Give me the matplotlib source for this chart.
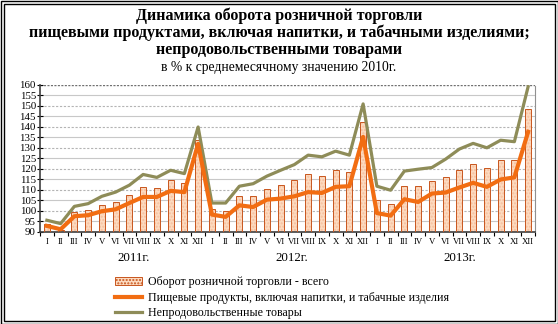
import matplotlib
matplotlib.use("Agg")
import matplotlib.pyplot as plt
import numpy as np
from matplotlib.lines import Line2D
from matplotlib.patches import Patch, Rectangle

plt.rcParams['font.family'] = ['Liberation Serif', 'DejaVu Serif']

months = ['I', 'II', 'III', 'IV', 'V', 'VI', 'VII', 'VIII', 'IX', 'X', 'XI', 'XII']
years = ['2011г.', '2012г.', '2013г.']

# оборот розничной торговли - всего
total = [94.0, 91.0, 99.5, 100.7, 103.0, 104.3, 107.8, 111.5, 111.0, 114.7, 113.5, 134.0,
         101.1, 100.0, 107.2, 107.2, 110.7, 112.6, 114.7, 117.8, 116.7, 119.7, 118.8, 142.5,
         105.4, 103.5, 112.0, 112.0, 114.2, 116.2, 119.7, 122.6, 120.7, 124.2, 124.5, 148.4]
# пищевые продукты
food = [92.9, 91.3, 97.5, 98.0, 99.9, 100.8, 103.8, 106.7, 106.7, 109.6, 109.0, 132.0,
        98.3, 97.2, 102.7, 101.9, 105.4, 105.9, 107.0, 109.0, 108.6, 111.5, 111.8, 135.3,
        99.0, 97.8, 105.6, 104.3, 108.3, 108.8, 111.2, 113.4, 111.5, 115.0, 116.0, 137.7]
# непродовольственные товары
nonfood = [95.6, 94.0, 102.2, 103.5, 107.0, 109.0, 112.3, 117.4, 116.0, 119.4, 117.8, 140.0,
           103.8, 103.8, 111.8, 113.0, 116.6, 119.4, 122.1, 126.6, 125.8, 128.5, 126.6, 151.0,
           111.8, 109.9, 119.0, 119.9, 120.7, 124.7, 129.5, 132.2, 130.1, 133.7, 133.0, 159.2]

labels = ['Оборот розничной торговли - всего',
          'Пищевые продукты, включая напитки, и табачные изделия',
          'Непродовольственные товары']

bar_face = '#FCDAC0'
bar_edge = '#C8561E'
c_food = '#F26D12'
c_nonfood = '#8E8C58'

fig = plt.figure(figsize=(5.58, 3.24), dpi=100)
ax = fig.add_axes([40 / 558, 1 - 232 / 324, 495 / 558, 147 / 324])

x = np.arange(len(total))
ax.bar(x, np.array(total) - 90, bottom=90, width=0.45, color=bar_face,
       edgecolor='#F7BE9C', hatch='.....', linewidth=0, zorder=2)
ax.bar(x, np.array(total) - 90, bottom=90, width=0.45, facecolor='none',
       edgecolor=bar_edge, linewidth=0.7, zorder=3)
ax.plot(x, nonfood, color=c_nonfood, lw=2.3, zorder=4, solid_joinstyle='round')
ax.plot(x, food, color=c_food, lw=3.0, zorder=5, solid_joinstyle='round')

ax.set_xlim(-0.5, len(total) - 0.5)
ax.set_ylim(90, 160)
ax.set_yticks(np.arange(90, 161, 5))
for v in range(95, 160, 5):
    if v % 10 == 5:
        ax.axhline(v, color='#C8C8C8', lw=0.8, zorder=1)
    else:
        ax.axhline(v, color='#B4B4B4', lw=0.8, ls=(0, (2, 1.5)), zorder=1)
ax.axhline(160, color='#707070', lw=1.0, ls=(0, (1.5, 1)), zorder=1)

ax.set_xticks(x)
ax.set_xticklabels(months * 3, fontsize=6.3)
ax.set_xticks(np.arange(-0.5, len(total), 1), minor=True)
ax.tick_params(axis='x', which='major', length=0, pad=4)
ax.tick_params(axis='x', which='minor', length=3, direction='out', width=0.8)
ax.tick_params(axis='y', labelsize=7.8, length=4, direction='inout', width=0.8, pad=1)

ax.spines['top'].set_visible(False)
ax.spines['left'].set_color('#404040')
ax.spines['left'].set_linewidth(1.2)
ax.spines['bottom'].set_color('#404040')
ax.spines['bottom'].set_linewidth(1.2)
ax.spines['right'].set_color('#909090')
ax.spines['right'].set_linestyle((0, (1.5, 1)))
ax.spines['right'].set_linewidth(0.8)

# подписи годов
for i, y in enumerate(years):
    fig.text([134, 292, 460][i] / 558, 1 - 258 / 324, y, ha='center', va='center', fontsize=9.3)

# заголовок
fig.text(0.5, 1 - 16 / 324, 'Динамика оборота розничной торговли', ha='center', va='center',
         fontsize=11.5, fontweight='bold')
fig.text(0.5, 1 - 33 / 324, 'пищевыми продуктами, включая напитки, и табачными изделиями;',
         ha='center', va='center', fontsize=11.5, fontweight='bold')
fig.text(0.5, 1 - 50 / 324, 'непродовольственными товарами', ha='center', va='center',
         fontsize=11.5, fontweight='bold')
fig.text(0.5, 1 - 67 / 324, 'в % к среднемесячному значению 2010г.', ha='center', va='center',
         fontsize=9.8)

handles = [Patch(facecolor=bar_face, edgecolor=bar_edge, hatch='.....', linewidth=0.7),
           Line2D([], [], color=c_food, lw=3.0),
           Line2D([], [], color=c_nonfood, lw=2.3)]
fig.legend(handles, labels, loc='upper left', bbox_to_anchor=(115 / 558, 1 - 276 / 324),
           frameon=False, fontsize=8.6, handlelength=2.3, handleheight=0.6,
           handletextpad=0.5, labelspacing=0.3, borderpad=0, borderaxespad=0)

# двойная рамка
fig.patches.append(Rectangle((0.5 / 558, 0.5 / 324), 557 / 558, 323 / 324, transform=fig.transFigure,
                             fill=False, edgecolor='black', lw=1.0))
fig.patches.append(Rectangle((3.5 / 558, 3.5 / 324), 551 / 558, 317 / 324, transform=fig.transFigure,
                             fill=False, edgecolor='black', lw=1.0))

fig.savefig('out.png', dpi=100)
